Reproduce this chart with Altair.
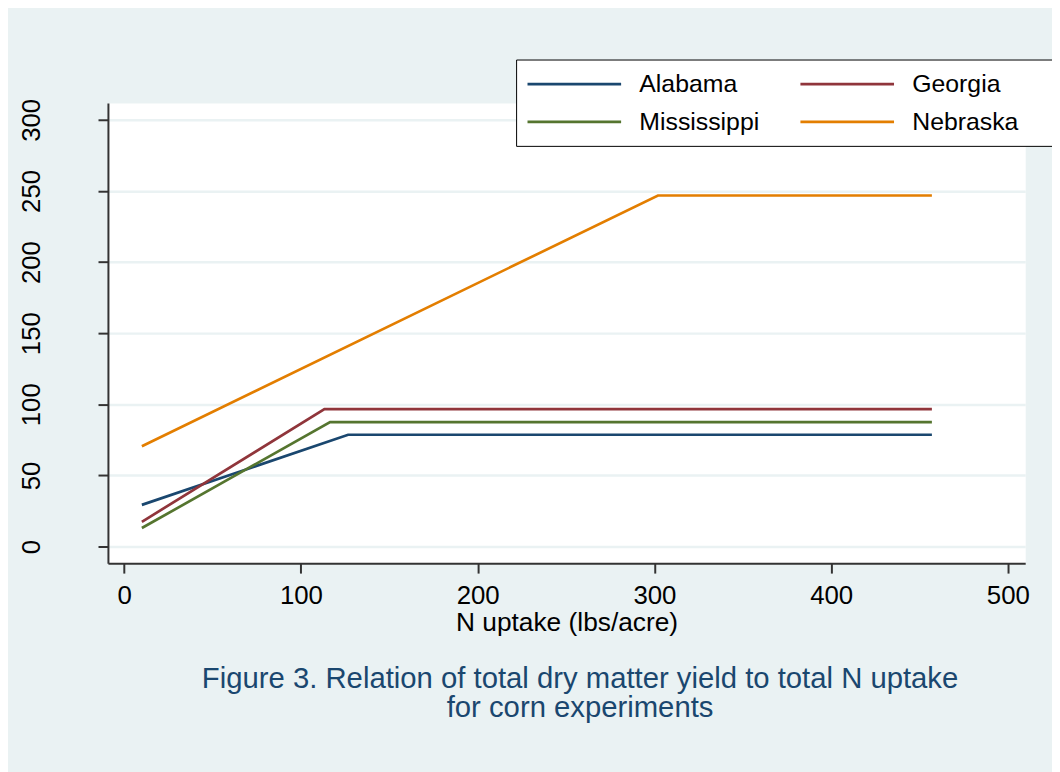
import altair as alt
import pandas as pd

states = ["Alabama", "Georgia", "Mississippi", "Nebraska"]
x_start = [10, 10, 10, 10]
y_start = [29.3, 17.4, 13.0, 70.5]
x_break = [126.7, 113.3, 116.5, 302.0]
y_plateau = [78.6, 96.6, 87.5, 246.8]
x_end = [457, 457, 457, 457]
colors = ["#1A476F", "#90353B", "#55752F", "#E37E00"]
x_ticks = [0, 100, 200, 300, 400, 500]
y_ticks = [0, 50, 100, 150, 200, 250, 300]

rows = []
for i, s in enumerate(states):
    rows += [
        {"state": s, "n": x_start[i], "yield": y_start[i], "ord": 0},
        {"state": s, "n": x_break[i], "yield": y_plateau[i], "ord": 1},
        {"state": s, "n": x_end[i], "yield": y_plateau[i], "ord": 2},
    ]
df = pd.DataFrame(rows)

FONT = "Liberation Sans"

chart = (
    alt.Chart(df)
    .mark_line(strokeWidth=2.7)
    .encode(
        x=alt.X(
            "n:Q",
            scale=alt.Scale(domain=[-9.2, 509.8], nice=False, zero=False),
            axis=alt.Axis(
                values=x_ticks,
                title="N uptake (lbs/acre)",
                grid=False,
                labelFontSize=26,
                labelPadding=9.5,
                labelFlush=False,
                labelBaseline="top",
                titleFontSize=26.5,
                titleFontWeight="normal",
                titlePadding=1,
            ),
        ),
        y=alt.Y(
            "yield:Q",
            scale=alt.Scale(domain=[-11.7, 311.9], nice=False, zero=False),
            axis=alt.Axis(
                values=y_ticks,
                title=None,
                grid=True,
                gridColor="#EAF2F3",
                gridWidth=2.5,
                labelAngle=-90,
                labelAlign="center",
                labelBaseline="alphabetic",
                labelFontSize=26,
                labelPadding=59,
                labelFlush=False,
            ),
        ),
        color=alt.Color(
            "state:N",
            scale=alt.Scale(domain=states, range=colors),
            legend=alt.Legend(
                title=None,
                orient="none",
                direction="horizontal",
                legendX=411.3,
                legendY=-43.7,
                columns=2,
                fillColor="white",
                strokeColor="black",
                padding=11,
                rowPadding=11.3,
                columnPadding=0,
                symbolType="M-4,0H4M18.4,0",
                symbolSize=556,
                symbolStrokeWidth=2.7,
                symbolOffset=34.15,
                labelOffset=52,
                labelFontSize=25,
                labelColor="black",
                labelFont=FONT,
                labelLimit=300,
            ),
        ),
        order="ord:Q",
    )
    .properties(
        width=924.3,
        height=463.8,
        autosize=alt.AutoSizeParams(type="none"),
        padding={"left": 100.7, "top": 92.7, "right": 27, "bottom": 207.5},
        title=alt.Title(
            text=[
                "Figure 3. Relation of total dry matter yield to total N uptake",
                "for corn experiments",
            ],
            orient="bottom",
            anchor="middle",
            frame="group",
            fontSize=29.5,
            fontWeight="normal",
            color="#1A476F",
            font=FONT,
            lineHeight=29.5,
            baseline="top",
            offset=30,
            dx=13.6,
        ),
    )
    .configure(background="#EAF2F3", font=FONT)
    .configure_view(fill="white", stroke="transparent")
    .configure_axis(
        domainColor="#333333",
        domainWidth=2,
        tickColor="#333333",
        tickWidth=2,
        tickSize=10,
        labelColor="black",
        titleColor="black",
        labelFont=FONT,
        titleFont=FONT,
    )
)

chart.save("out.html", embed_options={"renderer": "svg", "actions": False})
